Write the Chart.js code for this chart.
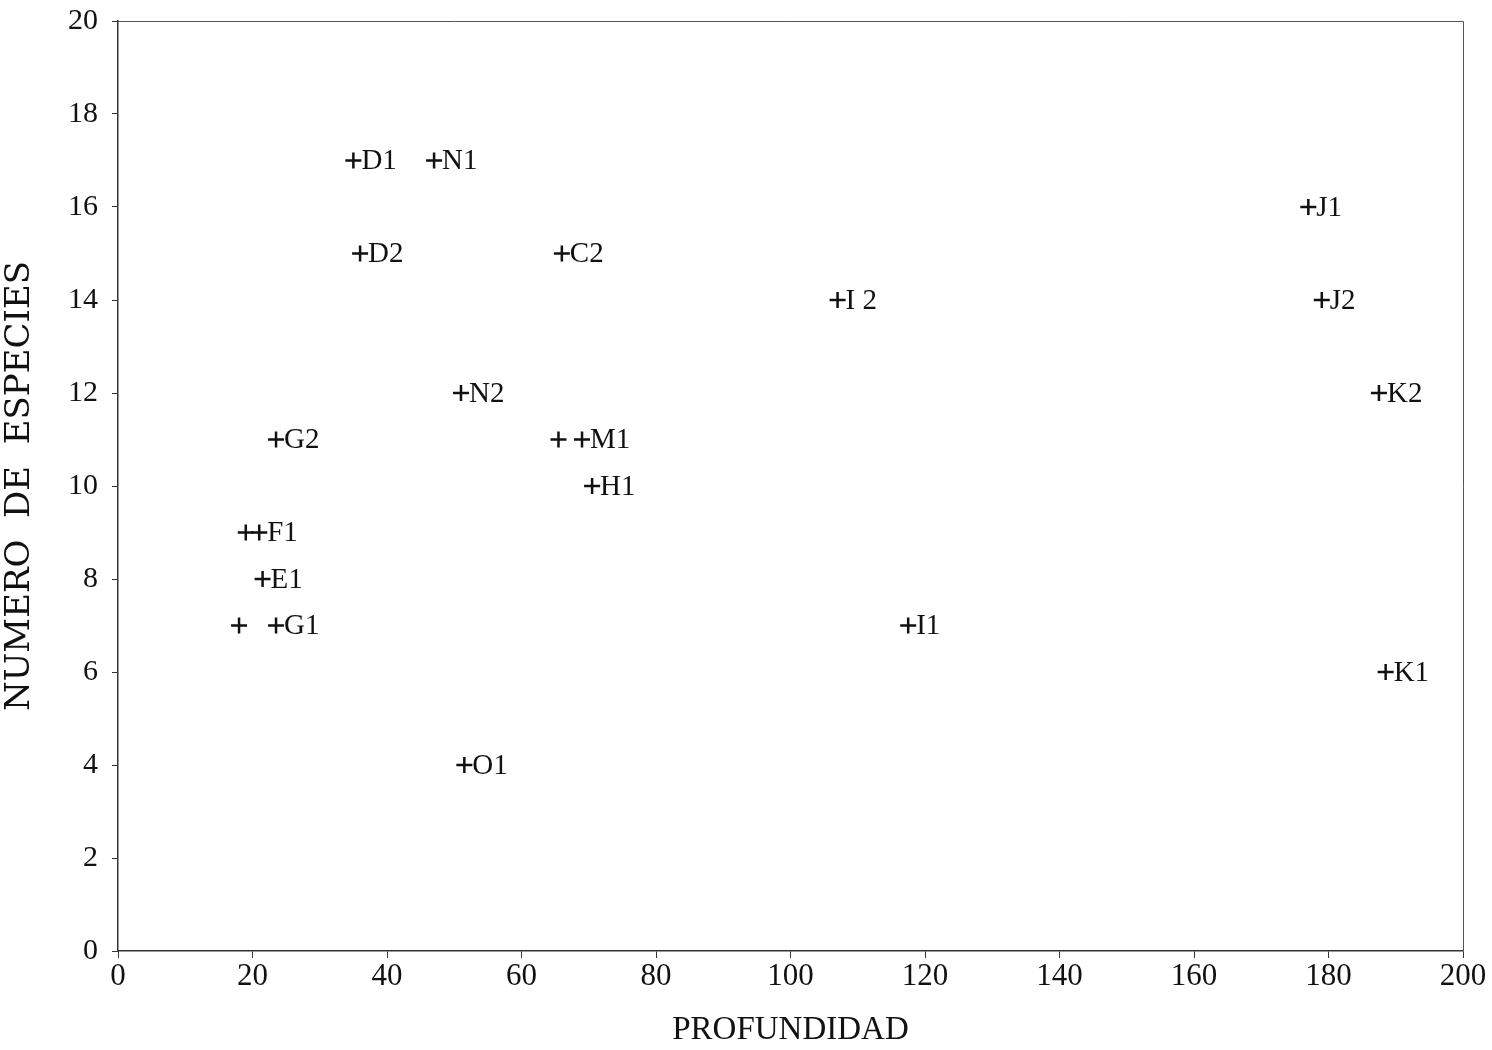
<!DOCTYPE html>
<html>
<head>
<meta charset="utf-8">
<script src="https://cdn.jsdelivr.net/npm/chart.js@4.4.1/dist/chart.umd.min.js"></script>
<style>
  html, body { margin: 0; padding: 0; background: #fff; }
  #wrap { width: 1492px; height: 1050px; }
</style>
</head>
<body>
<div id="wrap"><canvas id="c" width="1492" height="1050"></canvas></div>
<script>
// Estaciones: profundidad (m) y número de especies
const profundidad = [35, 47, 36, 66, 107, 177, 179, 187.5, 51, 23.5, 65.5, 69, 70.5, 19, 21, 21.5, 18, 23.5, 117.5, 188.5, 51.5];
const especies    = [17, 17, 15, 15, 14, 16, 14, 12, 12, 11, 11, 11, 10, 9, 9, 8, 7, 7, 7, 6, 4];
const estaciones  = ['D1', 'N1', 'D2', 'C2', 'I 2', 'J1', 'J2', 'K2', 'N2', 'G2', '', 'M1', 'H1', '', 'F1', 'E1', '', 'G1', 'I1', 'K1', 'O1'];

const xTicks = [0, 20, 40, 60, 80, 100, 120, 140, 160, 180, 200];
const yTicks = [0, 2, 4, 6, 8, 10, 12, 14, 16, 18, 20];

const serif = "'Liberation Serif', 'Times New Roman', serif";

// Etiquetas de estación a la derecha de cada cruz
const stationLabels = {
  id: 'stationLabels',
  afterDatasetsDraw(chart) {
    const { ctx, scales: { x, y } } = chart;
    ctx.save();
    ctx.fillStyle = '#111';
    ctx.font = '29px ' + serif;
    ctx.textBaseline = 'middle';
    ctx.textAlign = 'left';
    estaciones.forEach((txt, i) => {
      if (!txt) return;
      ctx.fillText(txt, x.getPixelForValue(profundidad[i]) + 8, y.getPixelForValue(especies[i]) + 1);
    });
    ctx.restore();
  }
};

// Marco superior y derecho del área de gráfico
const frame = {
  id: 'frame',
  beforeDatasetsDraw(chart) {
    const { ctx, chartArea: a } = chart;
    ctx.save();
    ctx.strokeStyle = '#555';
    ctx.lineWidth = 1;
    ctx.beginPath();
    ctx.moveTo(a.left, a.top + 0.5);
    ctx.lineTo(a.right + 0.5, a.top + 0.5);
    ctx.lineTo(a.right + 0.5, a.bottom);
    ctx.stroke();
    ctx.restore();
  }
};

new Chart(document.getElementById('c'), {
  type: 'scatter',
  data: {
    datasets: [{
      data: profundidad.map((v, i) => ({ x: v, y: especies[i] })),
      pointStyle: 'cross',
      pointRadius: 8,
      pointHoverRadius: 8,
      borderColor: '#111',
      backgroundColor: '#111',
      borderWidth: 2.5
    }]
  },
  options: {
    responsive: false,
    animation: false,
    events: [],
    layout: { padding: { top: 21, right: 29, left: 0, bottom: 0 } },
    plugins: { legend: { display: false }, tooltip: { enabled: false } },
    scales: {
      x: {
        type: 'linear',
        min: 0, max: 200,
        afterBuildTicks(s) { s.ticks = xTicks.map(v => ({ value: v })); },
        afterFit(s) { s.height = 99; s.paddingLeft = 0; s.paddingRight = 0; },
        grid: { display: true, drawOnChartArea: false, drawTicks: true, tickLength: 7, color: '#333' },
        border: { display: true, color: '#333', width: 1.5 },
        ticks: {
          color: '#111',
          font: { family: serif, size: 31 },
          padding: 0,
          maxRotation: 0
        },
        title: {
          display: true,
          text: 'PROFUNDIDAD',
          color: '#111',
          font: { family: serif, size: 33 },
          padding: { top: 4, bottom: 0 }
        }
      },
      y: {
        type: 'linear',
        min: 0, max: 20,
        afterBuildTicks(s) { s.ticks = yTicks.map(v => ({ value: v })); },
        afterFit(s) { s.width = 118; s.paddingTop = 0; s.paddingBottom = 0; },
        grid: { display: true, drawOnChartArea: false, drawTicks: true, tickLength: 6, color: '#333' },
        border: { display: true, color: '#333', width: 1.5 },
        ticks: {
          color: '#111',
          font: { family: serif, size: 30 },
          padding: 14
        },
        title: {
          display: true,
          text: 'NUMERO  DE  ESPECIES',
          color: '#111',
          font: { family: "'DejaVu Serif', serif", size: 34 },
          padding: { top: 0, bottom: 8 }
        }
      }
    }
  },
  plugins: [frame, stationLabels]
});
</script>
</body>
</html>
